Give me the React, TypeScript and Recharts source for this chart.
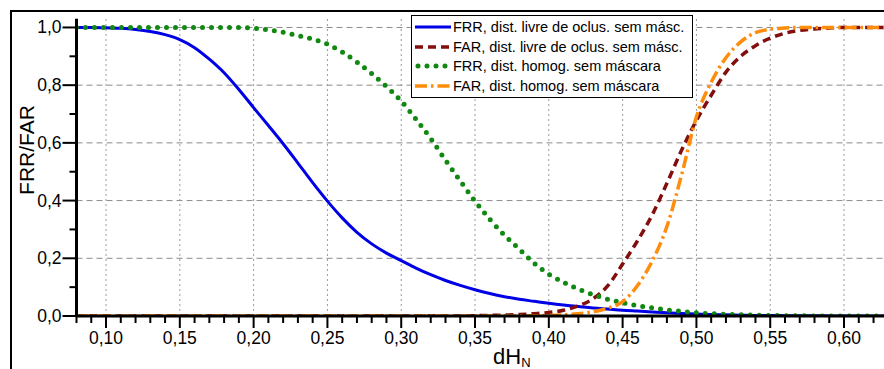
import { LineChart, Line, XAxis, YAxis, ReferenceLine, Legend } from "recharts";

// dH_N (normalised Hamming distance)
const dhN = [
  0.08, 0.09, 0.1, 0.11, 0.12, 0.13, 0.14, 0.15, 0.16, 0.17, 0.18, 0.19, 0.2, 0.21,
  0.22, 0.23, 0.24, 0.25, 0.26, 0.27, 0.28, 0.29, 0.3, 0.31, 0.32, 0.33, 0.34, 0.35,
  0.36, 0.37, 0.38, 0.39, 0.4, 0.41, 0.42, 0.43, 0.44, 0.45, 0.46, 0.47, 0.48, 0.49,
  0.5, 0.51, 0.52, 0.53, 0.54, 0.55, 0.56, 0.57, 0.58, 0.59, 0.6, 0.61, 0.62, 0.63,
];

const frrLivre = [
  1, 1, 0.999, 0.997, 0.993, 0.986, 0.975, 0.958, 0.93, 0.89, 0.843, 0.785, 0.722, 0.66,
  0.597, 0.53, 0.462, 0.398, 0.34, 0.29, 0.25, 0.218, 0.192, 0.166, 0.143, 0.123, 0.106, 0.091,
  0.078, 0.067, 0.058, 0.051, 0.044, 0.038, 0.033, 0.028, 0.024, 0.02, 0.017, 0.014, 0.011, 0.009,
  0.007, 0.005, 0.004, 0.003, 0.002, 0.002, 0.001, 0.001, 0.001, 0, 0, 0, 0, 0,
];

const farLivre = [
  0, 0, 0, 0, 0, 0, 0, 0, 0, 0, 0, 0, 0, 0,
  0, 0, 0, 0, 0, 0, 0, 0, 0, 0, 0, 0, 0, 0.001,
  0.002, 0.003, 0.005, 0.008, 0.012, 0.02, 0.035, 0.06, 0.105, 0.18, 0.26, 0.35, 0.46, 0.575,
  0.678, 0.765, 0.845, 0.9, 0.937, 0.963, 0.98, 0.99, 0.995, 0.998, 1, 1, 1, 1,
];

const frrHomog = [
  1, 1, 1, 1, 1, 1, 1, 1, 1, 1, 1, 1, 0.997, 0.992,
  0.983, 0.972, 0.96, 0.942, 0.915, 0.88, 0.84, 0.795, 0.745, 0.682, 0.615, 0.54, 0.468, 0.398,
  0.335, 0.28, 0.232, 0.183, 0.145, 0.117, 0.093, 0.074, 0.058, 0.046, 0.036, 0.028, 0.021, 0.016,
  0.011, 0.008, 0.006, 0.004, 0.003, 0.002, 0.001, 0.001, 0, 0, 0, 0, 0, 0,
];

const farHomog = [
  0, 0, 0, 0, 0, 0, 0, 0, 0, 0, 0, 0, 0, 0,
  0, 0, 0, 0, 0, 0, 0, 0, 0, 0, 0, 0, 0, 0,
  0, 0, 0, 0.001, 0.002, 0.004, 0.008, 0.015, 0.027, 0.05, 0.105, 0.19, 0.31, 0.49,
  0.69, 0.81, 0.895, 0.95, 0.982, 0.994, 0.998, 1, 1, 1, 1, 1, 1, 1,
];

const majorX = [0.1, 0.15, 0.2, 0.25, 0.3, 0.35, 0.4, 0.45, 0.5, 0.55, 0.6];
const xTicks = dhN;
const yTicks = [0, 0.1, 0.2, 0.3, 0.4, 0.5, 0.6, 0.7, 0.8, 0.9, 1];
const yGrid = [0.2, 0.4, 0.6, 0.8, 1];

const rows = dhN.map((x, i) => ({
  x,
  frrLivre: frrLivre[i],
  farLivre: farLivre[i],
  frrHomog: frrHomog[i],
  farHomog: farHomog[i],
}));

const FONT = "'Liberation Sans', Arial, sans-serif";

const series = [
  { key: "frrLivre", name: "FRR, dist. livre de oclus. sem másc.", color: "#0000e6", width: 3, dash: undefined, cap: "butt" },
  { key: "farLivre", name: "FAR, dist. livre de oclus. sem másc.", color: "#820e0e", width: 3.5, dash: "8 5", cap: "butt" },
  { key: "frrHomog", name: "FRR, dist. homog. sem máscara", color: "#118811", width: 5, dash: "0 9", cap: "round" },
  { key: "farHomog", name: "FAR, dist. homog. sem máscara", color: "#ff8c0a", width: 3.5, dash: "12 4 2.5 4", cap: "butt" },
];

const comma = (v: number, d: number) => v.toFixed(d).replace(".", ",");

function XTick(props: any) {
  const { x, y, payload } = props;
  const v = payload.value;
  const major = Math.round(v * 100) % 5 === 0;
  return (
    <g>
      <line x1={x} x2={x} y1={y} y2={y + (major ? 12 : 7)} stroke="#000" strokeWidth={2} />
      {major && (
        <text x={x} y={y + 28} textAnchor="middle" fontSize={17.5} fontFamily={FONT} fill="#000">
          {comma(v, 2)}
        </text>
      )}
    </g>
  );
}

function YTick(props: any) {
  const { x, y, payload } = props;
  const v = payload.value;
  const major = Math.round(v * 10) % 2 === 0;
  return (
    <g>
      <line x1={x - (major ? 14 : 7)} x2={x} y1={y} y2={y} stroke="#000" strokeWidth={2} />
      {major && (
        <text x={x - 15} y={y + 6} textAnchor="end" fontSize={17.5} fontFamily={FONT} fill="#000">
          {comma(v, 1)}
        </text>
      )}
    </g>
  );
}

function LegendBox() {
  return (
    <div
      style={{
        border: "1.5px solid #000",
        background: "#fff",
        padding: "1px 8px 1px 3px",
        fontFamily: FONT,
        fontSize: 14.5,
        color: "#000",
      }}
    >
      {series.map((s) => (
        <div key={s.key} style={{ display: "flex", alignItems: "center", height: 19.8, whiteSpace: "nowrap" }}>
          <svg width={36} height={10} style={{ marginRight: 2 }}>
            <line
              x1={s.cap === "round" ? 3 : 0}
              x2={36}
              y1={5}
              y2={5}
              stroke={s.color}
              strokeWidth={s.width}
              strokeDasharray={s.dash}
              strokeLinecap={s.cap as any}
            />
          </svg>
          <span>{s.name}</span>
        </div>
      ))}
    </div>
  );
}

export default function App() {
  return (
    <div style={{ position: "absolute", left: 0, top: 0, width: 884, height: 369, overflow: "hidden", background: "#fff" }}>
      <div
        style={{ position: "absolute", left: 10, top: 10, width: 1000, height: 1000, border: "2px solid #000" }}
      />
      <div style={{ position: "absolute", left: 0, top: 0 }}>
        <LineChart width={900} height={369} data={rows} margin={{ top: 18.8, right: 11.7, left: 0, bottom: 0 }}>
          {yGrid.map((v) => (
            <ReferenceLine key={`h${v}`} y={v} stroke="#8a8a8a" strokeWidth={1} strokeDasharray="6 4" />
          ))}
          {majorX.map((v) => (
            <ReferenceLine key={`v${v}`} x={v} stroke="#9a9a9a" strokeWidth={1} strokeDasharray="2 3" />
          ))}
          <XAxis
            dataKey="x"
            type="number"
            domain={[0.08, 0.63]}
            ticks={xTicks}
            interval={0}
            height={53}
            tickSize={0}
            tickMargin={0}
            tickLine={false}
            tick={XTick}
            axisLine={{ stroke: "#000", strokeWidth: 3 }}
            allowDataOverflow
            label={() => (
              <text x={493} y={364} fontSize={22} fontFamily={FONT} fill="#000">
                dH<tspan fontSize={13} dy={3}>N</tspan>
              </text>
            )}
          />
          <YAxis
            type="number"
            domain={[0, 1.03]}
            ticks={yTicks}
            interval={0}
            width={76.5}
            tickSize={0}
            tickMargin={0}
            tickLine={false}
            tick={YTick}
            axisLine={{ stroke: "#000", strokeWidth: 3 }}
            allowDataOverflow
            label={() => (
              <text
                transform="translate(26,150) rotate(-90)"
                textAnchor="middle"
                dominantBaseline="central"
                fontSize={21}
                fontFamily={FONT}
                fill="#000"
              >
                FRR/FAR
              </text>
            )}
          />
          {series.map((s) => (
            <Line
              key={s.key}
              type="monotone"
              dataKey={s.key}
              name={s.name}
              stroke={s.color}
              strokeWidth={s.width}
              strokeDasharray={s.dash}
              strokeLinecap={s.cap as any}
              dot={false}
              activeDot={false}
              isAnimationActive={false}
            />
          ))}
          <Legend
            layout="vertical"
            align="center"
            verticalAlign="middle"
            content={LegendBox}
            wrapperStyle={{ left: 411, top: 15, width: "auto" }}
          />
        </LineChart>
      </div>
    </div>
  );
}
